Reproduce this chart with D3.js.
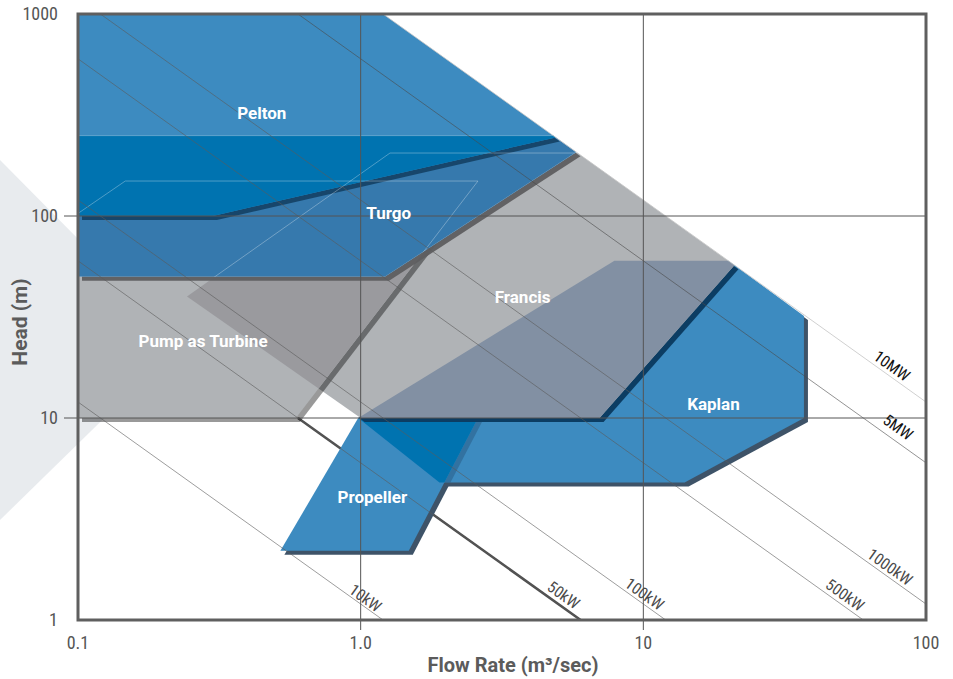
<!DOCTYPE html>
<html>
<head>
<meta charset="utf-8">
<script src="https://cdn.jsdelivr.net/npm/d3@7/dist/d3.min.js"></script>
<style>
  body { margin: 0; background: #fff; }
  svg { display: block; }
</style>
</head>
<body>
<svg id="chart" width="953" height="679"></svg>
<script>
// axis ticks
const xTicks = [0.1, 1, 10, 100];
const xTickLabels = ["0.1", "1.0", "10", "100"];
const yTicks = [1, 10, 100, 1000];
const yTickLabels = ["1", "10", "100", "1000"];
const xGrid = [1, 10];
const yGrid = [10, 100];

// turbine application ranges as [flow m3/s, head m] corners
const pelton = [[0.1, 1000], [1.2, 1000], [4.9, 245], [0.3, 100], [0.1, 100]];
const turgo = [[0.1, 250], [4.8, 250], [5.8, 207], [1.22, 50], [0.1, 50]];
const francis = [[0.243, 40], [1.27, 205], [5.85, 205], [21, 57], [7, 10], [1, 10]];
const pump = [[0.1, 103], [0.147, 149], [2.6, 149], [0.59, 10], [0.1, 10]];
const kaplan = [[0.98, 10], [7.9, 60], [20, 60], [37, 32], [37, 10], [14, 4.8], [1.9, 4.8]];
const propeller = [[0.52, 2.2], [0.98, 10], [2.6, 10], [1.48, 2.2]];

const shapeNames = ["Pelton", "Turgo", "Francis", "Pump as Turbine", "Kaplan", "Propeller"];
const shapeLabelPos = [[0.447, 323], [1.256, 103.5], [3.74, 39.7], [0.277, 24], [17.7, 11.7], [1.10, 4.06]];

// iso-power lines: flow x head product, label and label centre
const powerNames = ["10kW", "50kW", "100kW", "500kW", "1000kW", "5MW", "10MW"];
const powerFlowHead = [1.2, 6, 12, 60, 120, 600, 1200];
const powerLabelPos = [[1.04, 1.285], [5.22, 1.33], [10.1, 1.345], [51.7, 1.33], [74.6, 1.83], [79.6, 9.0], [75.8, 18.1]];

const svg = d3.select("#chart");
const width = 953, height = 679;

const x = d3.scaleLog().domain([0.1, 100]).range([78, 926]);
const y = d3.scaleLog().domain([1, 1000]).range([620, 14]);

const poly = d3.line()
  .x(d => x(d[0]))
  .y(d => y(d[1]))
  .curve(d3.curveLinearClosed);

const defs = svg.append("defs");
defs.append("clipPath").attr("id", "plot")
  .append("rect")
  .attr("x", 78).attr("y", 14)
  .attr("width", 848).attr("height", 606);

function addClip(id, shapes) {
  const cp = defs.append("clipPath").attr("id", id);
  shapes.forEach(s => cp.append("path").attr("d", poly(s)));
}
addClip("cPump", [pump]);
addClip("cKaplan", [kaplan]);
addClip("cTurgo", [turgo]);
addClip("cPelton", [pelton]);
addClip("cBlueLow", [kaplan, propeller]);
addClip("cBlueHigh", [turgo, pelton]);

// light grey chevron behind the chart
svg.append("path")
  .attr("d", "M0,160L181,343L0,520Z")
  .attr("fill", "#e8ebee");

const g = svg.append("g").attr("clip-path", "url(#plot)");

const SHADOW = "translate(4,4)";

function drawShadow(pts, fill, opacity, parent) {
  (parent || g).append("path")
    .attr("d", poly(pts))
    .attr("transform", SHADOW)
    .attr("fill", fill)
    .attr("opacity", opacity);
}

function drawShape(pts, fill, shadowFill, shadowOpacity) {
  if (shadowFill) drawShadow(pts, shadowFill, shadowOpacity);
  g.append("path")
    .attr("d", poly(pts))
    .attr("fill", fill);
}

function drawOverlap(pts, clipId, fill) {
  g.append("g")
    .attr("clip-path", `url(#${clipId})`)
    .append("path")
    .attr("d", poly(pts))
    .attr("fill", fill);
}

// thick part of the 50kW line below 10 m
g.append("line")
  .attr("x1", x(powerFlowHead[1] / 10)).attr("y1", y(10))
  .attr("x2", x(powerFlowHead[1])).attr("y2", y(1))
  .attr("stroke", "#4f4f4f")
  .attr("stroke-width", 2.5);

// Kaplan + Propeller
drawShadow(propeller, "#3e5368", 1);
drawShape(kaplan, "#3d8bc0", "#3e5368", 1);
drawShadow(propeller, "#1f4566", 0.35, g.append("g").attr("clip-path", "url(#cKaplan)"));
drawShape(propeller, "#3d8bc0");
drawOverlap(propeller, "cKaplan", "#0073b0");

// Francis, its shadow only shows on the blue shapes
drawShadow(francis, "#0c3d63", 1, g.append("g").attr("clip-path", "url(#cBlueLow)"));
drawShape(francis, "#b0b3b6");
drawOverlap(francis, "cKaplan", "#8290a3");

// Pump as Turbine
drawShape(pump, "#b0b3b6", "#000", 0.4);
drawOverlap(francis, "cPump", "#9a9a9e");

// Turgo + Pelton
drawShape(turgo, "#3679ad", "#5e5e60", 0.95);
drawShape(pelton, "#3d8bc0", "#17466b", 1);
drawOverlap(turgo, "cPelton", "#0073b0");

// faint outlines of the shapes hidden under the blue ones
const faint = g.append("g").attr("clip-path", "url(#cBlueHigh)");
[pump, francis, turgo].forEach(s => {
  faint.append("path")
    .attr("d", poly(s))
    .attr("fill", "none")
    .attr("stroke", "#fff")
    .attr("stroke-opacity", 0.3)
    .attr("stroke-width", 1);
});

// iso-power lines
powerFlowHead.forEach((qh, i) => {
  g.append("line")
    .attr("x1", x(0.1)).attr("y1", y(qh / 0.1))
    .attr("x2", x(100)).attr("y2", y(qh / 100))
    .attr("stroke", i === 6 ? "#c4c4c4" : (i === 5 ? "#4a4a4a" : "#5a5a5a"))
    .attr("stroke-opacity", i === 6 ? 1 : 0.75)
    .attr("stroke-width", 0.8);
});

// grid lines
yGrid.forEach(v => {
  svg.append("line")
    .attr("x1", 64).attr("x2", x(100))
    .attr("y1", y(v)).attr("y2", y(v))
    .attr("stroke", "#555").attr("stroke-width", 1);
});
xGrid.forEach(v => {
  svg.append("line")
    .attr("x1", x(v)).attr("x2", x(v))
    .attr("y1", y(1000)).attr("y2", 630)
    .attr("stroke", "#555").attr("stroke-width", 1);
});

// power line labels
const angle = Math.atan2(y(1) - y(10), x(10) - x(1)) * 180 / Math.PI;
powerNames.forEach((name, i) => {
  const px = x(powerLabelPos[i][0]), py = y(powerLabelPos[i][1]);
  svg.append("text")
    .attr("transform", `translate(${px},${py}) rotate(${angle})`)
    .attr("text-anchor", "middle")
    .attr("dy", "0.35em")
    .attr("font-family", "'Liberation Sans Narrow', 'Roboto Condensed', Roboto, sans-serif")
    .attr("font-size", 16)
    .attr("fill", i >= 5 ? "#111" : "#4a4a4a")
    .text(name);
});

// shape labels
shapeNames.forEach((name, i) => {
  svg.append("text")
    .attr("x", x(shapeLabelPos[i][0]))
    .attr("y", y(shapeLabelPos[i][1]))
    .attr("dy", "0.36em")
    .attr("text-anchor", "middle")
    .attr("font-family", "Roboto, sans-serif")
    .attr("font-weight", "bold")
    .attr("font-size", 17)
    .attr("fill", "#fff")
    .text(name);
});

// frame
svg.append("rect")
  .attr("x", 78).attr("y", 14)
  .attr("width", 848).attr("height", 606)
  .attr("fill", "none")
  .attr("stroke", "#5f5f5f")
  .attr("stroke-width", 3);

// tick labels
const tickFont = "'Liberation Sans Narrow', 'Roboto Condensed', Roboto, sans-serif";
yTicks.forEach((v, i) => {
  svg.append("text")
    .attr("x", 58).attr("y", y(v))
    .attr("dy", "0.36em")
    .attr("text-anchor", "end")
    .attr("font-family", tickFont)
    .attr("font-size", 18)
    .attr("fill", "#555")
    .text(yTickLabels[i]);
});
xTicks.forEach((v, i) => {
  svg.append("text")
    .attr("x", x(v)).attr("y", 649)
    .attr("text-anchor", "middle")
    .attr("font-family", tickFont)
    .attr("font-size", 18)
    .attr("fill", "#555")
    .text(xTickLabels[i]);
});

// axis titles
svg.append("text")
  .attr("x", 513).attr("y", 672)
  .attr("text-anchor", "middle")
  .attr("font-family", "Roboto, sans-serif")
  .attr("font-weight", "bold")
  .attr("font-size", 20)
  .attr("fill", "#5b5b5b")
  .text("Flow Rate (m³/sec)");

svg.append("text")
  .attr("transform", "translate(27,322) rotate(-90)")
  .attr("text-anchor", "middle")
  .attr("font-family", "Roboto, sans-serif")
  .attr("font-weight", "bold")
  .attr("font-size", 21)
  .attr("fill", "#5b5b5b")
  .text("Head (m)");
</script>
</body>
</html>
